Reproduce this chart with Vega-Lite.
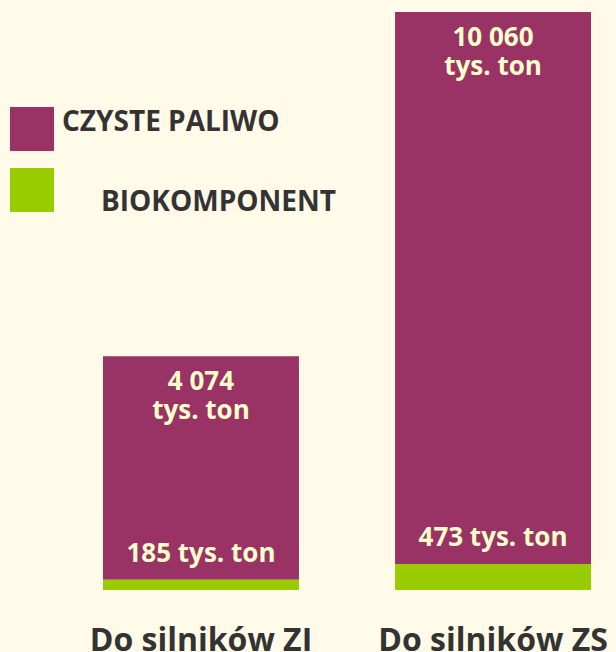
{
  "$schema": "https://vega.github.io/schema/vega-lite/v6.json",
  "width": 616,
  "height": 590,
  "padding": {"left": 0, "top": 0, "right": 0, "bottom": 62},
  "autosize": "none",
  "background": "#fffbe8",
  "data": {
    "values": [
      {"kat": "Do silników ZI", "typ": "CZYSTE PALIWO", "wartosc": 4074, "etykieta": "4 074\ntys. ton"},
      {"kat": "Do silników ZI", "typ": "BIOKOMPONENT", "wartosc": 185, "etykieta": "185  tys. ton"},
      {"kat": "Do silników ZS", "typ": "CZYSTE PALIWO", "wartosc": 10060, "etykieta": "10 060\ntys. ton"},
      {"kat": "Do silników ZS", "typ": "BIOKOMPONENT", "wartosc": 473, "etykieta": "473 tys. ton"}
    ]
  },
  "transform": [
    {"stack": "wartosc", "groupby": ["kat"], "sort": [{"field": "typ", "order": "ascending"}], "as": ["y0", "y1"]}
  ],
  "encoding": {
    "x": {
      "field": "kat",
      "type": "nominal",
      "sort": ["Do silników ZI", "Do silników ZS"],
      "scale": {"range": [103, 591], "paddingInner": 0.329, "paddingOuter": 0},
      "axis": {
        "title": null,
        "domain": false,
        "ticks": false,
        "labelAngle": 0,
        "labelFont": "Open Sans",
        "labelFontWeight": "bold",
        "labelFontSize": 32,
        "labelColor": "#333333",
        "labelPadding": 35,
        "labelLimit": 400
      }
    }
  },
  "layer": [
    {
      "mark": {"type": "bar"},
      "encoding": {
        "y": {"field": "y0", "type": "quantitative", "scale": {"domain": [0, 10752], "nice": false, "zero": false}, "axis": null},
        "y2": {"field": "y1"},
        "color": {
          "field": "typ",
          "type": "nominal",
          "scale": {"domain": ["CZYSTE PALIWO", "BIOKOMPONENT"], "range": ["#993366", "#99cc00"]},
          "legend": {
            "title": null,
            "orient": "none",
            "legendX": 10,
            "legendY": 107,
            "direction": "vertical",
            "symbolType": "square",
            "symbolSize": 1936,
            "symbolStrokeWidth": 0,
            "symbolOpacity": 1,
            "labelFont": "Open Sans",
            "labelFontWeight": "bold",
            "labelFontSize": 28,
            "labelColor": "#333333",
            "labelOffset": 8,
            "labelLimit": 400,
            "rowPadding": 17,
            "padding": 0,
            "encode": {
              "labels": {
                "update": {
                  "dx": {"signal": "datum.value == 'BIOKOMPONENT' ? 39 : 0"},
                  "dy": {"signal": "datum.value == 'BIOKOMPONENT' ? 13 : -6"}
                }
              }
            }
          }
        }
      }
    },
    {
      "transform": [{"filter": "datum.typ == 'CZYSTE PALIWO'"}],
      "mark": {
        "type": "text",
        "align": "center",
        "baseline": "alphabetic",
        "dy": 34,
        "lineBreak": "\n",
        "lineHeight": 29,
        "font": "Open Sans",
        "fontWeight": "bold",
        "fontSize": 26,
        "color": "#ffffcc"
      },
      "encoding": {
        "y": {"field": "y1", "type": "quantitative", "scale": {"domain": [0, 10752], "nice": false, "zero": false}},
        "text": {"field": "etykieta"}
      }
    },
    {
      "transform": [{"filter": "datum.typ == 'BIOKOMPONENT'"}],
      "mark": {
        "type": "text",
        "align": "center",
        "baseline": "alphabetic",
        "dy": -18,
        "font": "Open Sans",
        "fontWeight": "bold",
        "fontSize": 26,
        "color": "#ffffcc"
      },
      "encoding": {
        "y": {"field": "y1", "type": "quantitative", "scale": {"domain": [0, 10752], "nice": false, "zero": false}},
        "text": {"field": "etykieta"}
      }
    }
  ],
  "config": {
    "view": {"stroke": null}
  }
}
